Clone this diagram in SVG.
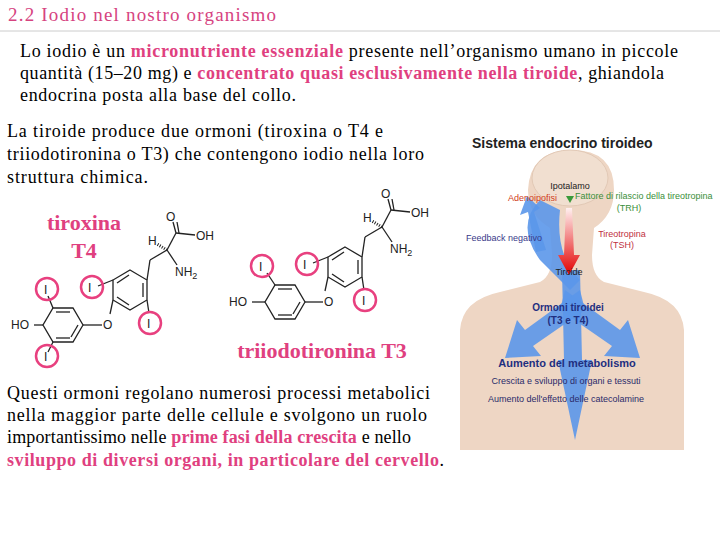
<svg xmlns="http://www.w3.org/2000/svg" width="720" height="540" viewBox="0 0 720 540">
<defs>
<style>
.s{font-family:"Liberation Serif",serif;font-size:18px;fill:#000}
.p{fill:#e0407f;font-weight:bold}
.b{stroke:#222;stroke-width:1.3;fill:none}
.l{font-family:"Liberation Sans",sans-serif;font-size:12px;fill:#222}
.c{fill:none;stroke:#e8407f;stroke-width:2.5}
.f{font-family:"Liberation Sans",sans-serif;font-size:9px}
.bl{fill:#5b97ea;opacity:0.9}
</style>
<linearGradient id="rg" x1="0" y1="0" x2="0" y2="1"><stop offset="0" stop-color="#fff0f0"/><stop offset="1" stop-color="#e30000"/></linearGradient>
</defs>
<rect width="720" height="540" fill="#fff"/>
<text x="8" y="21" textLength="268" style="font-family:'Liberation Serif',serif;font-size:19px;fill:#d6437f">2.2 Iodio nel nostro organismo</text>
<line x1="0" y1="31" x2="720" y2="31" stroke="#ccc" stroke-width="1"/>
<text class="s" x="20" y="57" textLength="658">Lo iodio è un <tspan class="p">micronutriente essenziale</tspan> presente nell’organismo umano in piccole</text>
<text class="s" x="20" y="79" textLength="644">quantità (15–20 mg) e <tspan class="p">concentrato quasi esclusivamente nella tiroide</tspan>, ghiandola</text>
<text class="s" x="20" y="101" textLength="276">endocrina posta alla base del collo.</text>
<text class="s" x="7" y="137" textLength="376">La tiroide produce due ormoni (tiroxina o T4 e</text>
<text class="s" x="7" y="160" textLength="417">triiodotironina o T3) che contengono iodio nella loro</text>
<text class="s" x="7" y="183" textLength="141">struttura chimica.</text>
<text class="s" x="7" y="399" textLength="423">Questi ormoni regolano numerosi processi metabolici</text>
<text class="s" x="7" y="421" textLength="420">nella maggior parte delle cellule e svolgono un ruolo</text>
<text class="s" x="7" y="443" textLength="404">importantissimo nelle <tspan class="p">prime fasi della crescita</tspan> e nello</text>
<text class="s" x="7" y="466" textLength="437"><tspan class="p">sviluppo di diversi organi, in particolare del cervello</tspan>.</text>

<g id="t4label"><text x="84" y="230" text-anchor="middle" style="font-family:'Liberation Serif',serif;font-size:22px;font-weight:bold;fill:#e0407f">tiroxina</text>
<text x="84" y="258" text-anchor="middle" style="font-family:'Liberation Serif',serif;font-size:22px;font-weight:bold;fill:#e0407f">T4</text></g>
<text x="322" y="358" text-anchor="middle" style="font-family:'Liberation Serif',serif;font-size:22px;font-weight:bold;fill:#e0407f">triiodotironina T3</text>

<g id="t4">
<polygon class="b" points="83,325 73,342 53,342 43,325 53,308 73,308"/>
<line class="b" x1="56" y1="312" x2="70" y2="312"/><line class="b" x1="56" y1="338" x2="70" y2="338"/><line class="b" x1="78" y1="325" x2="71" y2="337"/>
<line class="b" x1="53" y1="308" x2="48" y2="296"/><line class="b" x1="53" y1="342" x2="48" y2="352"/>
<line class="b" x1="43" y1="325" x2="34" y2="325"/><line class="b" x1="83" y1="325" x2="102" y2="325"/>
<text class="l" x="11" y="329">HO</text><text class="l" x="103" y="329">O</text>
<text class="l" x="44" y="294">I</text><text class="l" x="44" y="361">I</text>
<circle class="c" cx="47" cy="289" r="11"/><circle class="c" cx="47" cy="356" r="11"/>
<g id="ringB">
<polygon class="b" points="130,270 147,280 147,300 130,310 113,300 113,280"/>
<line class="b" x1="117" y1="283" x2="129" y2="275"/><line class="b" x1="143" y1="283" x2="143" y2="297"/><line class="b" x1="117" y1="297" x2="129" y2="305"/>
<line class="b" x1="113" y1="300" x2="110" y2="314"/>
<line class="b" x1="113" y1="280" x2="98" y2="286"/><line class="b" x1="147" y1="300" x2="149" y2="313"/>
<line class="b" x1="147" y1="280" x2="150" y2="260"/><line class="b" x1="150" y1="260" x2="167" y2="250"/>
<line class="b" x1="167" y1="250" x2="177" y2="265"/><line class="b" x1="167" y1="250" x2="176" y2="233"/>
<line class="b" x1="176" y1="233" x2="173" y2="222"/><line class="b" x1="179" y1="233" x2="177" y2="222"/>
<line class="b" x1="176" y1="233" x2="195" y2="235"/>
<line x1="167" y1="250" x2="157" y2="244" stroke="#222" stroke-width="3" stroke-dasharray="1,1.5"/>
<text class="l" x="88" y="292">I</text><text class="l" x="147" y="328">I</text>
<text class="l" x="166" y="221">O</text><text class="l" x="196" y="240">OH</text>
<text class="l" x="148" y="245">H</text><text class="l" x="175" y="276">NH<tspan font-size="9" dy="3">2</tspan></text>
<circle class="c" cx="92" cy="287" r="11"/><circle class="c" cx="150" cy="323" r="11"/>
</g>
</g>

<g id="t3">
<polygon class="b" points="305,302 295,319 275,319 265,302 275,285 295,285"/>
<line class="b" x1="278" y1="289" x2="292" y2="289"/><line class="b" x1="278" y1="315" x2="292" y2="315"/><line class="b" x1="300" y1="302" x2="293" y2="314"/>
<line class="b" x1="275" y1="285" x2="267" y2="273"/>
<line class="b" x1="265" y1="302" x2="252" y2="302"/><line class="b" x1="305" y1="302" x2="323" y2="302"/>
<text class="l" x="229" y="306">HO</text><text class="l" x="324" y="306">O</text>
<text class="l" x="259" y="271">I</text>
<circle class="c" cx="262" cy="266" r="11"/>
<g transform="translate(215,-23)">
<polygon class="b" points="130,270 147,280 147,300 130,310 113,300 113,280"/>
<line class="b" x1="117" y1="283" x2="129" y2="275"/><line class="b" x1="143" y1="283" x2="143" y2="297"/><line class="b" x1="117" y1="297" x2="129" y2="305"/>
<line class="b" x1="113" y1="300" x2="110" y2="314"/>
<line class="b" x1="113" y1="280" x2="98" y2="286"/><line class="b" x1="147" y1="300" x2="149" y2="313"/>
<line class="b" x1="147" y1="280" x2="150" y2="260"/><line class="b" x1="150" y1="260" x2="167" y2="250"/>
<line class="b" x1="167" y1="250" x2="177" y2="265"/><line class="b" x1="167" y1="250" x2="176" y2="233"/>
<line class="b" x1="176" y1="233" x2="173" y2="222"/><line class="b" x1="179" y1="233" x2="177" y2="222"/>
<line class="b" x1="176" y1="233" x2="195" y2="235"/>
<line x1="167" y1="250" x2="157" y2="244" stroke="#222" stroke-width="3" stroke-dasharray="1,1.5"/>
<text class="l" x="88" y="292">I</text><text class="l" x="147" y="328">I</text>
<text class="l" x="166" y="221">O</text><text class="l" x="196" y="240">OH</text>
<text class="l" x="148" y="245">H</text><text class="l" x="175" y="276">NH<tspan font-size="9" dy="3">2</tspan></text>
<circle class="c" cx="92" cy="287" r="11"/><circle class="c" cx="150" cy="323" r="11"/>
</g>
</g>

<g id="figure">
<text x="472" y="148" style="font-family:'Liberation Sans',sans-serif;font-size:14px;font-weight:bold;fill:#222">Sistema endocrino tiroideo</text>
<path d="M460,450 L460,330 Q462,300 500,292 L540,282 Q552,276 552,255 L550,228 Q528,215 528,190 Q530,150 572,150 Q614,150 614,190 Q614,215 594,228 L592,255 Q592,276 604,282 L644,292 Q682,300 684,330 L684,450 Z" fill="#eed6c4"/>
<ellipse cx="570" cy="178" rx="38" ry="28" fill="#f1dfd0" stroke="#e2c9b6"/>
<path d="M540,200 Q515,225 540,260 Q560,280 570,290 L580,280 Q555,255 560,210 Z" class="bl" opacity="0.7"/>
<polygon class="bl" points="527,196 540,208 534,212 546,250 536,252 528,212 520,215"/>
<polygon class="bl" points="562,270 580,270 582,360 592,360 575,440 558,360 564,360"/>
<polygon class="bl" points="565,290 620,330 628,320 640,358 604,356 612,346 560,310"/>
<polygon class="bl" points="580,290 525,330 517,320 505,358 541,356 533,346 585,310"/>
<path d="M566,208 L572,208 L574,255 L580,255 L569,275 L558,255 L564,255 Z" fill="url(#rg)"/>
<path d="M566,196 L574,196 L570,203 Z" fill="#3a9a3a"/>
<text class="f" x="570" y="189" text-anchor="middle" fill="#222">Ipotalamo</text>
<text class="f" x="508" y="201" fill="#d04020">Adenoipofisi</text>
<text class="f" x="575" y="199" fill="#3a8f3a">Fattore di rilascio della tireotropina</text>
<text class="f" x="629" y="211" text-anchor="middle" fill="#3a8f3a">(TRH)</text>
<text class="f" x="466" y="241" fill="#3a3a8a">Feedback negativo</text>
<text class="f" x="622" y="237" text-anchor="middle" fill="#c03040">Tireotropina</text>
<text class="f" x="622" y="248" text-anchor="middle" fill="#c03040">(TSH)</text>
<text class="f" x="569" y="275" text-anchor="middle" fill="#222">Tiroide</text>
<text x="568" y="311" text-anchor="middle" style="font-family:'Liberation Sans',sans-serif;font-size:10px;font-weight:bold;fill:#1f2f80">Ormoni tiroidei</text>
<text x="568" y="324" text-anchor="middle" style="font-family:'Liberation Sans',sans-serif;font-size:10px;font-weight:bold;fill:#1f2f80">(T3 e T4)</text>
<text x="567" y="367" text-anchor="middle" style="font-family:'Liberation Sans',sans-serif;font-size:11px;font-weight:bold;fill:#1f2f80">Aumento del metabolismo</text>
<text class="f" x="566" y="384" text-anchor="middle" fill="#2a2a6a">Crescita e sviluppo di organi e tessuti</text>
<text class="f" x="566" y="402" text-anchor="middle" fill="#2a2a6a">Aumento dell'effetto delle catecolamine</text>
</g>
</svg>
